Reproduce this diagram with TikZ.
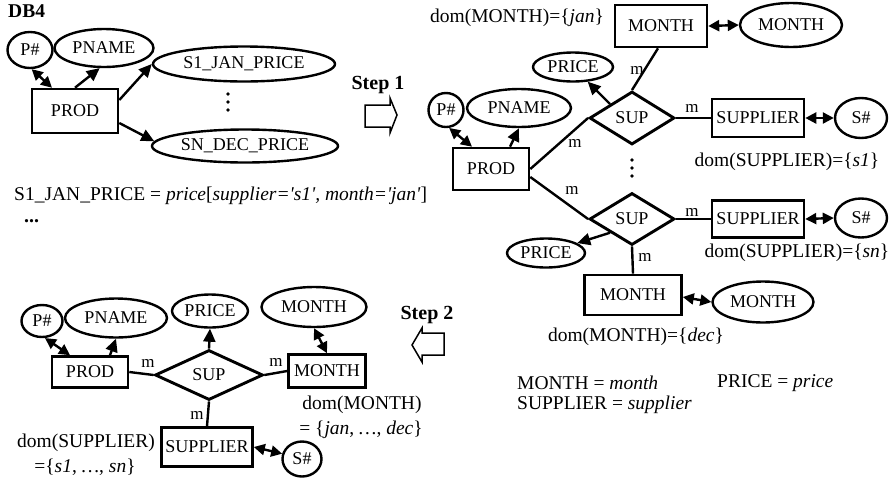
\documentclass[tikz,border=0pt]{standalone}
\usepackage{fontspec}
\setmainfont{Liberation Serif}
\usetikzlibrary{shapes.geometric,arrows.meta}
\begin{document}
\begin{tikzpicture}[x=1pt,y=-1pt,
  every node/.style={font=\fontsize{18}{20}\selectfont, inner sep=0pt},
  note/.style={font=\fontsize{19.5}{22}\selectfont},
  sz/.style 2 args={minimum width=#1, minimum height=#2},
  ent/.style={draw, rectangle, line width=2.6pt},
  attr/.style={draw, ellipse, line width=2.4pt},
  rel/.style={draw, diamond, aspect=2, line width=2.9pt},
  link/.style={line width=2.4pt},
  arr/.style={line width=2.4pt, -{Triangle[length=13pt,width=12pt]}},
  dbl/.style={line width=2.4pt, {Triangle[length=11pt,width=11pt]}-{Triangle[length=11pt,width=11pt]}},
  card/.style={font=\fontsize{17}{18}\selectfont},
  hd/.style={font=\bfseries\fontsize{20}{22}\selectfont},
  dotmark/.style={circle, fill, minimum size=3.6pt},
  blk/.style={line width=1.5pt, line join=miter}]
\useasboundingbox (0,0) rectangle (892,483);

% ---- DB4: flat product table ----
\node[hd, font=\bfseries\fontsize{19.5}{22}\selectfont, anchor=west] (db4) at (8,11) {DB4};
\node[attr, sz={45}{36}] (tlP) at (30,50) {P\#};
\node[attr, sz={99}{38}] (tlPN) at (104,48) {PNAME};
\node[attr, sz={182}{35}] (tlS1) at (244,64) {S1\_JAN\_PRICE};
\node[attr, sz={186}{33}] (tlSN) at (245,146) {SN\_DEC\_PRICE};
\node[ent, sz={86}{44}] (tlPROD) at (75,111) {PROD};
\node[dotmark] (tlD1) at (228,94) {};
\node[dotmark] (tlD2) at (228,102) {};
\node[dotmark] (tlD3) at (228,110) {};
\draw[dbl] ([xshift=-23pt]tlPROD.north) -- (tlP.-85);
\draw[arr] (tlPROD.north) -- (tlPN.-102);
\draw[arr] ([yshift=11pt]tlPROD.east) -- (tlS1.west);
\draw[arr] ([yshift=-12pt]tlPROD.east) -- (tlSN.177);

\node[note, anchor=west] (formula) at (14,196) {S1\_JAN\_PRICE = \textit{price}[\textit{supplier=\textquotesingle s1\textquotesingle, month=\textquotesingle jan\textquotesingle}]};
\node[hd, anchor=west] (more) at (24,221) {...};

% ---- step 1 ----
\node[hd] (step1) at (378,85) {Step 1};
\draw[blk] (365,105) -- (390,105) -- (390,98) -- (397,115) -- (390,133) -- (390,127) -- (365,127) -- cycle;

% ---- after step 1 ----
\node[note] (domJan) at (517,18) {dom(MONTH)=\{\textit{jan}\}};
\node[ent, sz={92}{42}] (mR1) at (661,26) {MONTH};
\node[attr, sz={102}{44}] (mE1) at (791,25) {MONTH};
\node[attr, sz={80}{29}] (pr1) at (573,67) {PRICE};
\node[rel, sz={85}{53}] (sup1) at (632,118) {SUP};
\node[attr, sz={35}{34}] (trP) at (446,110) {P\#};
\node[attr, sz={104}{38}] (trPN) at (519,108) {PNAME};
\node[ent, sz={76}{42}] (trPROD) at (491,169) {PROD};
\node[ent, sz={92}{38}] (sp1) at (758,118) {SUPPLIER};
\node[attr, sz={52}{40}] (sh1) at (861,118) {S\#};
\node[note] (domS1) at (787,162) {dom(SUPPLIER)=\{\textit{s1}\}};
\node[dotmark] (trD1) at (632,160) {};
\node[dotmark] (trD2) at (632,168) {};
\node[dotmark] (trD3) at (632,176) {};
\node[rel, sz={85}{52}] (sup2) at (632,219) {SUP};
\node[ent, sz={92}{37}] (sp2) at (758,219) {SUPPLIER};
\node[attr, sz={52}{39}] (sh2) at (861,218) {S\#};
\node[note] (domSn) at (797,253) {dom(SUPPLIER)=\{\textit{sn}\}};
\node[attr, sz={78}{29}] (pr2) at (546,253) {PRICE};
\node[ent, sz={97}{40}] (mR2) at (633,295) {MONTH};
\node[attr, sz={101}{41}] (mE2) at (763,302) {MONTH};
\node[note] (domDec) at (636,337) {dom(MONTH)=\{\textit{dec}\}};
\node[note, anchor=west] (keyM) at (517,383) {MONTH = \textit{month}};
\node[note, anchor=west] (keyP) at (717,383) {PRICE = \textit{price}};
\node[note, anchor=west] (keyS) at (517,405) {SUPPLIER = \textit{supplier}};

\draw[dbl] (mR1.east) -- (mE1.west);
\draw[link] ([xshift=-3pt]mR1.south) -- (sup1.north);
\node[card] (c1) at (637,70) {m};
\draw[arr] (sup1.north west) -- (pr1);
\draw[dbl] ([xshift=-19pt]trPROD.north) -- (trP.-80);
\draw[arr] ([xshift=19pt]trPROD.north) -- (trPN.south);
\draw[link] (trPROD.east) -- (sup1.west);
\node[card] (c2) at (575,143) {m};
\draw[link] ([yshift=-8pt]trPROD.east) -- (sup2.west);
\node[card] (c3) at (572,190) {m};
\draw[link] (sup1.east) -- (sp1.west);
\node[card] (c4) at (692,108) {m};
\draw[dbl] (sp1.east) -- (sh1.west);
\draw[link] (sup2.east) -- (sp2.west);
\node[card] (c5) at (692,212) {m};
\draw[dbl] (sp2.east) -- (sh2.west);
\draw[arr] (sup2.south west) -- (pr2);
\draw[link] (sup2.south) -- (mR2.north);
\node[card] (c6) at (645,257) {m};
\draw[dbl] ([yshift=-2pt]mR2.east) -- (mE2.west);

% ---- step 2 ----
\node[hd] (step2) at (427,315) {Step 2};
\draw[blk] (444,333) -- (422,333) -- (422,328) -- (412,345) -- (422,362) -- (422,355) -- (444,355) -- cycle;

% ---- after step 2 ----
\node[attr, sz={41}{32}] (blP) at (42,321) {P\#};
\node[attr, sz={102}{39}] (blPN) at (116,318) {PNAME};
\node[attr, sz={76}{33}] (blPR) at (210,311) {PRICE};
\node[attr, sz={105}{40}] (blME) at (314,307) {MONTH};
\node[ent, sz={76}{31}] (blPROD) at (90,372) {PROD};
\node[rel, sz={108}{50}] (blSUP) at (209,375) {SUP};
\node[ent, sz={77}{33}] (blMR) at (327,371) {MONTH};
\node[ent, sz={91}{39}] (blSP) at (207,447) {SUPPLIER};
\node[attr, sz={39}{35}] (blSH) at (302,459) {S\#};
\node[note] (blDomS) at (86,443) {dom(SUPPLIER)};
\node[note] (blDomS2) at (85,467) {=\{\textit{s1}, \textit{\dots}, \textit{sn}\}};
\node[note] (blDomM) at (362,405) {dom(MONTH)};
\node[note] (blDomM2) at (361,430) {= \{\textit{jan}, \textit{\dots}, \textit{dec}\}};

\draw[dbl] ([xshift=-20pt]blPROD.north) -- (blP.-80);
\draw[arr] ([xshift=20pt]blPROD.north) -- (blPN.south);
\draw[link] (blPROD.east) -- (blSUP.west);
\node[card] (c7) at (148,363) {m};
\draw[arr] (blSUP.north) -- (blPR.south);
\draw[link] (blSUP.east) -- (blMR.west);
\node[card] (c8) at (276,362) {m};
\draw[dbl] (blMR.north) -- (blME.south);
\draw[link] (blSUP.south) -- (blSP.north);
\node[card] (c9) at (197,415) {m};
\draw[dbl] (blSP.east) -- (blSH.165);
\end{tikzpicture}
\end{document}
